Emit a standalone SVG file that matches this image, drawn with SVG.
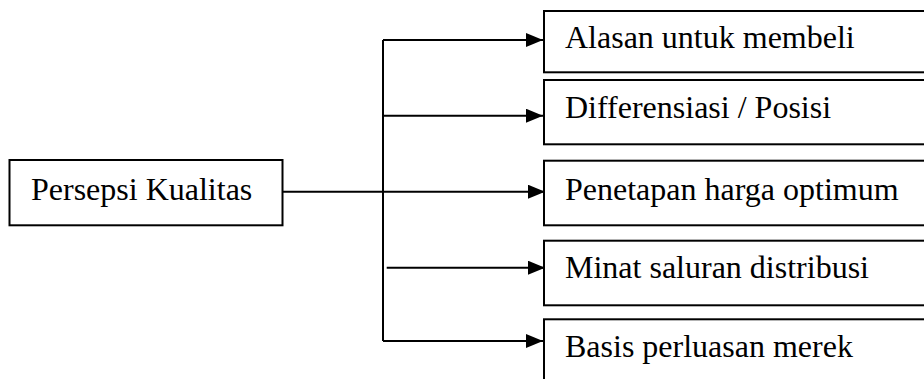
<svg xmlns="http://www.w3.org/2000/svg" width="924" height="379" viewBox="0 0 924 379">
<style>
.box{fill:#fff;stroke:#000;stroke-width:2}
.lbl{font-family:"Liberation Serif","Times New Roman",serif;font-size:32px;fill:#000}
.conn{fill:none;stroke:#000;stroke-width:2}
</style>
<defs>
<marker id="arr" markerUnits="userSpaceOnUse" markerWidth="18" markerHeight="14" refX="17" refY="7" orient="auto">
<path d="M0,0 L17,7 L0,14 Z" fill="#000"/>
</marker>
</defs>
<rect width="924" height="379" fill="#fff"/>
<g id="n0"><rect class="box" x="9.5" y="160" width="273" height="65.3"/><text class="lbl" x="31" y="200">Persepsi Kualitas</text></g>
<g id="n1"><rect class="box" x="544" y="11" width="400" height="61.3"/><text class="lbl" x="565" y="48.3">Alasan untuk membeli</text></g>
<g id="n2"><rect class="box" x="544" y="80" width="400" height="64.3"/><text class="lbl" x="565" y="118.3">Differensiasi / Posisi</text></g>
<g id="n3"><rect class="box" x="544" y="160.7" width="400" height="64.6"/><text class="lbl" x="565" y="200">Penetapan harga optimum</text></g>
<g id="n4"><rect class="box" x="544" y="240.7" width="400" height="64.6"/><text class="lbl" x="565" y="278.3">Minat saluran distribusi</text></g>
<g id="n5"><rect class="box" x="544" y="319.3" width="400" height="80"/><text class="lbl" x="565" y="356.7">Basis perluasan merek</text></g>
<g id="connectors">
<path class="conn" d="M282.5,191.7 H383"/>
<path class="conn" d="M383,40 V341"/>
<path class="conn" d="M383,40 H543" marker-end="url(#arr)"/>
<path class="conn" d="M383,115.7 H543" marker-end="url(#arr)"/>
<path class="conn" d="M383,191.7 H545" marker-end="url(#arr)"/>
<path class="conn" d="M386.7,267.7 H545" marker-end="url(#arr)"/>
<path class="conn" d="M383,341 H543" marker-end="url(#arr)"/>
</g>
</svg>
